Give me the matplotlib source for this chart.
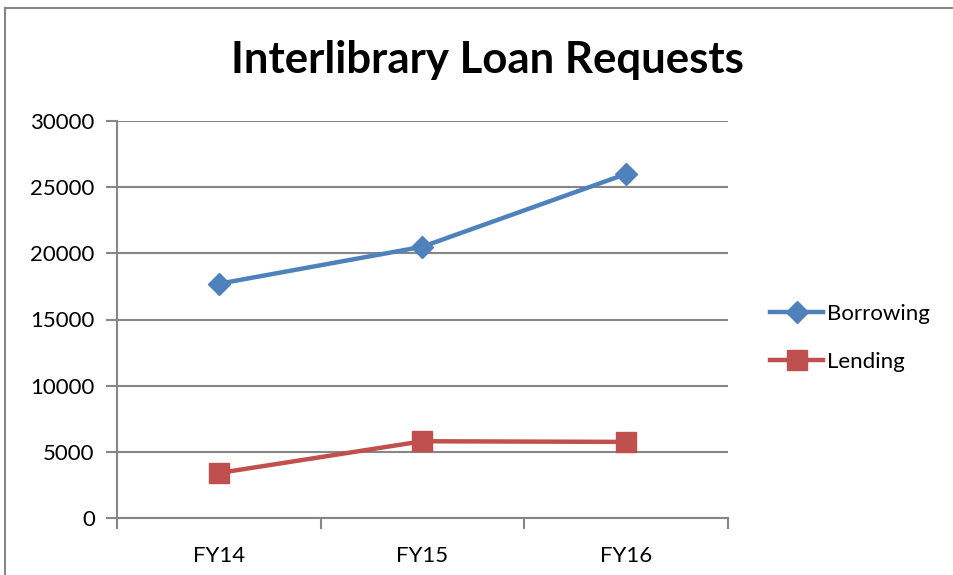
import matplotlib.pyplot as plt
from matplotlib.lines import Line2D

plt.rcParams['font.family'] = ['Lato', 'DejaVu Sans']

years = ["FY14", "FY15", "FY16"]
borrowing = [17700, 20500, 26000]
lending = [3400, 5800, 5750]

fig = plt.figure(figsize=(9.54, 5.75), dpi=100)
ax = fig.add_axes([117 / 954, 1 - 518 / 575, (728 - 117) / 954, (518 - 121) / 575])

# outer chart border (only top and left visible in the crop)
fig.add_artist(Line2D([5 / 954, 5 / 954], [0, 1 - 8 / 575], transform=fig.transFigure,
                      color='#878787', lw=1.5))
fig.add_artist(Line2D([5 / 954, 1], [1 - 8 / 575, 1 - 8 / 575], transform=fig.transFigure,
                      color='#878787', lw=1.5))

x = range(len(years))
ax.plot(x, borrowing, color='#4F81BD', lw=3.2, marker='D', ms=11, label='Borrowing')
ax.plot(x, lending, color='#C0504D', lw=3.2, marker='s', ms=14, label='Lending')

ax.set_xlim(-0.5, len(years) - 0.5)
ax.set_ylim(0, 30000)
ax.set_yticks(range(0, 30001, 5000))
ax.set_xticks([i - 0.5 for i in range(len(years) + 1)])
ax.set_xticklabels([])
ax.set_xticks(list(x), minor=True)
ax.set_xticklabels(years, minor=True)

ax.grid(axis='y', color='#868686', lw=1.5)
ax.set_axisbelow(True)
for s in ['top', 'right']:
    ax.spines[s].set_visible(False)
for s in ['left', 'bottom']:
    ax.spines[s].set_color('#868686')
    ax.spines[s].set_linewidth(1.5)

ax.tick_params(axis='y', which='major', direction='out', length=8, width=1.5,
               color='#868686', labelsize=16, pad=8)
ax.tick_params(axis='x', which='major', direction='out', length=8, width=1.5,
               color='#868686')
ax.tick_params(axis='x', which='minor', length=0, labelsize=16, pad=20)

fig.text(487 / 954, 1 - 60 / 575, "Interlibrary Loan Requests", ha='center', va='center',
         fontsize=31.5, fontweight='bold')

ax.legend(loc='center left', bbox_to_anchor=(750 / 954, 1 - 338 / 575),
          bbox_transform=fig.transFigure, frameon=False, fontsize=16,
          handlelength=2.4, handletextpad=0.15, labelspacing=1.25)

fig.savefig('out.png', dpi=100)
